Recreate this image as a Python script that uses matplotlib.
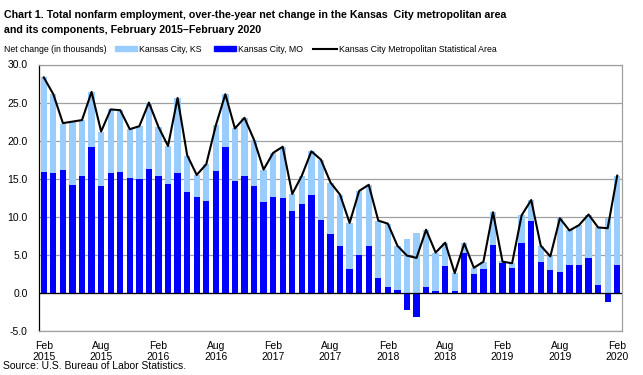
import numpy as np
import matplotlib.pyplot as plt
from matplotlib.patches import Rectangle
from matplotlib.lines import Line2D

# Over-the-year net change, thousands, Feb 2015 .. Feb 2020 (61 months)
mo = [15.9, 15.7, 16.2, 14.2, 15.3, 19.1, 14.1, 15.8, 15.9, 15.1, 15.0, 16.3,
      15.3, 14.3, 15.7, 13.3, 12.6, 12.1, 16.0, 19.2, 14.7, 15.3, 14.1, 12.0,
      12.6, 12.5, 10.7, 11.7, 12.9, 9.6, 7.8, 6.2, 3.2, 5.0, 6.2, 2.0,
      0.8, 0.4, -2.3, -3.2, 0.8, 0.2, 3.5, 0.2, 5.2, 2.5, 3.1, 6.3,
      3.9, 3.3, 6.5, 9.5, 4.1, 3.0, 2.8, 3.7, 3.7, 4.6, 1.0, -1.2,
      3.7]
ks = [12.4, 10.4, 6.0, 8.3, 7.4, 7.3, 7.1, 8.3, 8.1, 6.4, 6.9, 8.7,
      6.5, 5.0, 9.9, 4.7, 2.9, 4.8, 6.0, 6.9, 6.9, 7.7, 6.0, 4.2,
      5.8, 6.7, 2.3, 3.7, 5.7, 7.9, 6.7, 6.7, 6.0, 8.4, 8.0, 7.5,
      8.3, 5.8, 7.1, 7.9, 7.5, 5.1, 3.1, 2.4, 1.3, 0.8, 1.0, 4.3,
      0.3, 0.6, 3.7, 2.7, 2.1, 1.8, 7.0, 4.5, 5.2, 5.7, 7.6, 9.8,
      11.7]
msa = [28.3, 26.1, 22.3, 22.5, 22.7, 26.4, 21.2, 24.1, 24.0, 21.5, 21.9, 25.0,
       21.8, 19.3, 25.6, 18.1, 15.5, 16.9, 22.0, 26.1, 21.6, 23.0, 20.1, 16.2,
       18.4, 19.2, 13.0, 15.4, 18.6, 17.5, 14.5, 12.9, 9.2, 13.4, 14.2, 9.5,
       9.1, 6.2, 4.9, 4.6, 8.3, 5.3, 6.6, 2.6, 6.5, 3.3, 4.1, 10.6,
       4.1, 3.9, 10.2, 12.2, 6.2, 4.8, 9.8, 8.2, 8.9, 10.3, 8.6, 8.5,
       15.4]
tick_labels = ["Feb\n2015", "Aug\n2015", "Feb\n2016", "Aug\n2016", "Feb\n2017", "Aug\n2017",
               "Feb\n2018", "Aug\n2018", "Feb\n2019", "Aug\n2019", "Feb\n2020"]
y_ticks = [-5, 0, 5, 10, 15, 20, 25, 30]

KS_COLOR = "#99CCFF"
MO_COLOR = "#0000FF"

plt.rcParams["font.family"] = ["Liberation Sans", "DejaVu Sans"]

W, H = 643, 375
fig = plt.figure(figsize=(W / 100, H / 100), dpi=100)
ax = fig.add_axes([39 / W, 1 - 331 / H, (622 - 39) / W, (331 - 64.5) / H])

x = np.arange(len(mo))
ks_bottom = np.clip(np.array(mo), 0, None)

ax.bar(x, mo, width=0.66, color=MO_COLOR, zorder=2)
ax.bar(x, ks, width=0.66, bottom=ks_bottom, color=KS_COLOR, zorder=2)
ax.plot(x, msa, color="black", lw=1.5, zorder=3)

ax.set_xlim(-0.5, len(mo) - 0.5)
ax.set_ylim(-5, 30)
ax.set_yticks(y_ticks)
ax.set_yticklabels([f"{v:.1f}" for v in y_ticks], fontsize=7.5)
ax.set_xticks(np.arange(0, len(mo), 6))
ax.set_xticklabels(tick_labels, fontsize=7.5, linespacing=1.1)
ax.tick_params(length=0)
ax.tick_params(axis="y", pad=8)
ax.tick_params(axis="x", pad=7)

ax.grid(axis="y", color="#A0A0A0", lw=0.9, zorder=0)
ax.axhline(0, color="black", lw=0.9, zorder=2.5)
for side in ["top", "right", "bottom"]:
    ax.spines[side].set_color("#A0A0A0")
    ax.spines[side].set_linewidth(0.9)
ax.spines["left"].set_color("black")
ax.spines["left"].set_linewidth(0.9)


def fx(px):
    return px / W


def fy(py):
    return 1 - py / H


# title, two lines
fig.text(fx(4), fy(18), "Chart 1. Total nonfarm employment, over-the-year net change in the Kansas  City metropolitan area",
         fontweight="bold", fontsize=7.7, va="baseline", ha="left")
fig.text(fx(4), fy(33), "and its components, February 2015\u2013February 2020",
         fontweight="bold", fontsize=7.7, va="baseline", ha="left")

# legend
LEG_FS = 6.3
fig.text(fx(4), fy(52), "Net change (in thousands)", fontsize=LEG_FS, va="baseline")
fig.add_artist(Rectangle((fx(115), fy(51)), fx(22), 5 / H, color=KS_COLOR, transform=fig.transFigure))
fig.text(fx(139), fy(52), "Kansas City, KS", fontsize=LEG_FS, va="baseline")
fig.add_artist(Rectangle((fx(214), fy(51)), fx(22), 5 / H, color=MO_COLOR, transform=fig.transFigure))
fig.text(fx(238), fy(52), "Kansas City, MO", fontsize=LEG_FS, va="baseline")
fig.add_artist(Line2D([fx(313), fx(337)], [fy(48.5), fy(48.5)], color="black", lw=1.5, transform=fig.transFigure))
fig.text(fx(339), fy(52), "Kansas City Metropolitan Statistical Area", fontsize=LEG_FS, va="baseline")

fig.text(fx(3), fy(369), "Source: U.S. Bureau of Labor Statistics.", fontsize=7.5, va="baseline")

fig.savefig("out.png", dpi=100)
